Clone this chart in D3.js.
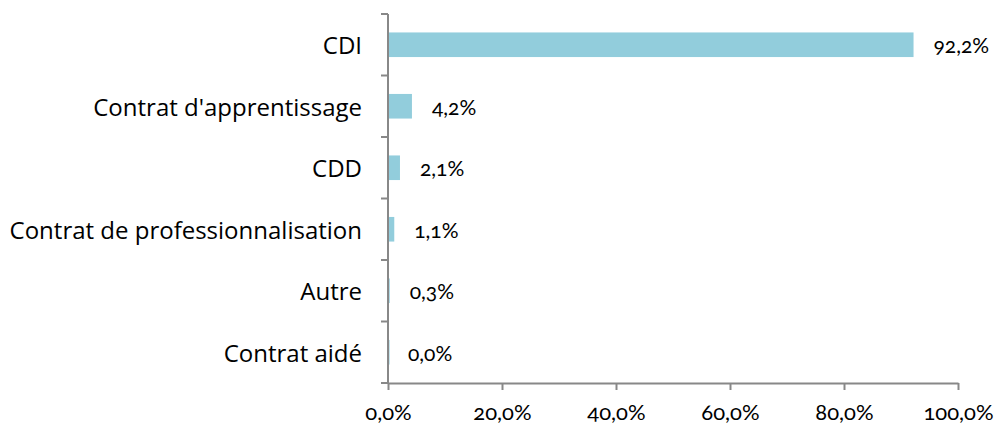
<!DOCTYPE html>
<meta charset="utf-8">
<head>
  <title>Type de contrat</title>
  <style>
    body { margin: 0; background: #fff; }
    text { font-family: Lato, "Open Sans", sans-serif; fill: #000; }
    .cat { font-family: "Open Sans", sans-serif; }
    .num { font-variant-numeric: oldstyle-nums; font-feature-settings: "onum"; }
  </style>
</head>

<body>
  <svg width="999" height="433"></svg>

  <script src="https://cdnjs.cloudflare.com/ajax/libs/d3/7.8.5/d3.min.js"></script>
  <script>
var categories = ['CDI', "Contrat d'apprentissage", 'CDD', 'Contrat de professionnalisation', 'Autre', 'Contrat aidé'];
var values = [92.2, 4.2, 2.1, 1.1, 0.3, 0.0];
var xTicks = [0, 20, 40, 60, 80, 100];

var fmt = function(v) { return v.toFixed(1).replace('.', ',') + '%'; };

var svg = d3.select('svg');
var axisColor = '#888';

var xScale = d3.scaleLinear().domain([0, 100]).range([388, 958]);
var yScale = d3.scaleBand()
  .domain(categories)
  .range([14, 383])
  .paddingInner(0.6)
  .paddingOuter(0.3);

// bars
svg.append('g')
  .selectAll('rect')
  .data(values)
  .enter()
  .append('rect')
  .attr('x', xScale(0))
  .attr('y', function(d, i) { return yScale(categories[i]); })
  .attr('width', function(d) { return Math.max(xScale(d) - xScale(0), 1.5); })
  .attr('height', yScale.bandwidth())
  .style('fill', '#92cddc');

// value labels
svg.append('g')
  .selectAll('text')
  .data(values)
  .enter()
  .append('text')
  .attr('class', 'num')
  .attr('x', function(d) { return xScale(d) + 20; })
  .attr('y', function(d, i) { return yScale(categories[i]) + yScale.bandwidth() / 2 + 1; })
  .attr('dy', '0.35em')
  .style('font-size', '21px')
  .text(fmt);

// category labels
svg.append('g')
  .selectAll('text')
  .data(categories)
  .enter()
  .append('text')
  .attr('class', 'cat')
  .attr('x', 362)
  .attr('y', function(d) { return yScale(d) + yScale.bandwidth() / 2 + 1; })
  .attr('dy', '0.35em')
  .attr('text-anchor', 'end')
  .style('font-size', '24px')
  .text(function(d) { return d; });

// y axis: line + ticks on band boundaries
var yBounds = d3.range(categories.length + 1).map(function(i) { return 14 + i * 369 / categories.length; });
var yAxis = svg.append('g');
yAxis.append('line')
  .attr('x1', xScale(0)).attr('x2', xScale(0))
  .attr('y1', 14).attr('y2', 383)
  .style('stroke', axisColor).style('stroke-width', 2);
yAxis.selectAll('.tick')
  .data(yBounds)
  .enter()
  .append('line')
  .attr('x1', xScale(0) - 7).attr('x2', xScale(0))
  .attr('y1', function(d) { return d; }).attr('y2', function(d) { return d; })
  .style('stroke', axisColor).style('stroke-width', 2);

// x axis
var xAxis = svg.append('g')
  .attr('transform', 'translate(0,383)')
  .call(d3.axisBottom(xScale).tickValues(xTicks).tickSize(7).tickSizeOuter(0).tickFormat(fmt));
xAxis.select('.domain').style('stroke', axisColor).style('stroke-width', 2);
xAxis.selectAll('.tick line').style('stroke', axisColor).style('stroke-width', 2);
xAxis.selectAll('.tick text')
  .attr('class', 'num')
  .attr('y', 21)
  .style('font-size', '22px')
  .style('font-family', 'Lato, "Open Sans", sans-serif')
  .style('fill', '#000');
  </script>
</body>
</html>
